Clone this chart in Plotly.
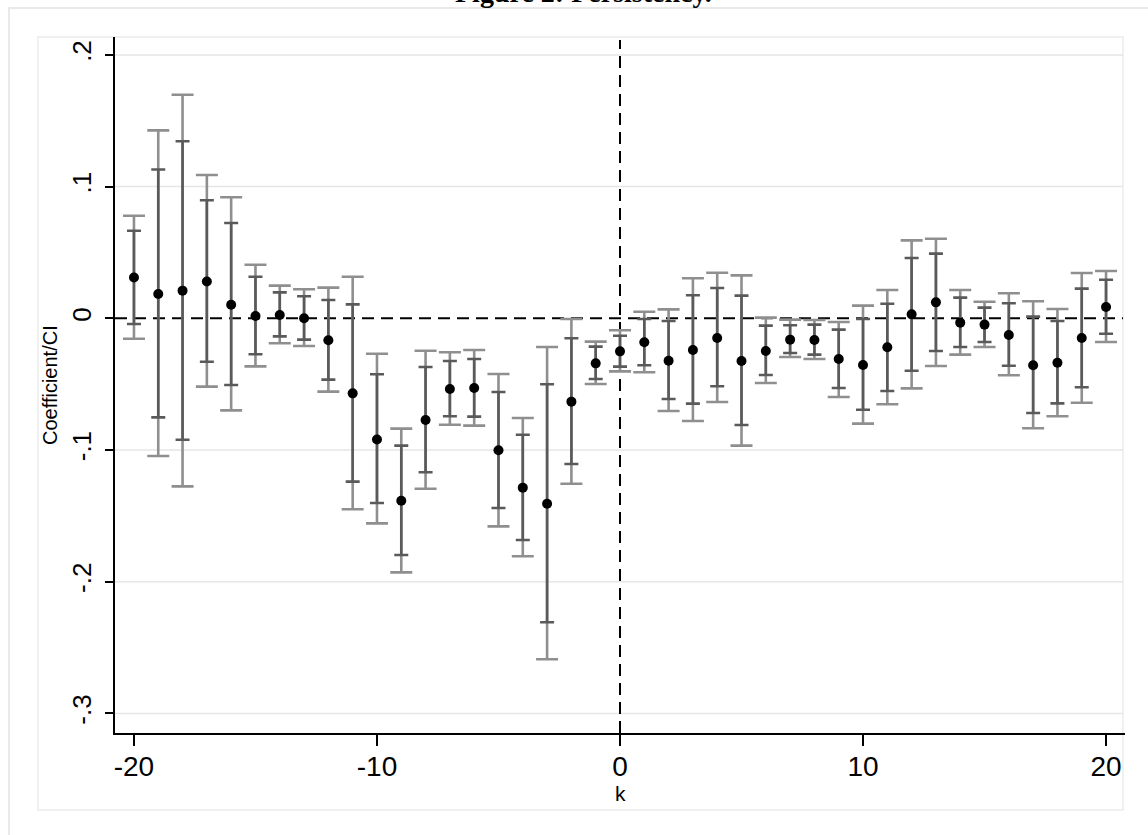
import plotly.graph_objects as go
import numpy as np

# ---- data ----
k = list(range(-20, 21))
coef = [0.031, 0.0185, 0.021, 0.028, 0.0103, 0.0017, 0.0025, 0.0, -0.0167, -0.057,
        -0.092, -0.1385, -0.0772, -0.0537, -0.0529, -0.1002, -0.1286, -0.1408, -0.0633, -0.0342,
        -0.0251, -0.0182, -0.0322, -0.0241, -0.015, -0.0324, -0.0248, -0.0162, -0.0165, -0.0309,
        -0.0355, -0.022, 0.003, 0.0121, -0.0033, -0.0048, -0.0127, -0.0357, -0.0337, -0.015, 0.0086]
inner_hi = [0.0665, 0.113, 0.1344, 0.0896, 0.0724, 0.0316, 0.0197, 0.0167, 0.0139, 0.0106,
            -0.0425, -0.0967, -0.037, -0.0324, -0.0309, -0.056, -0.0884, -0.0501, -0.0152, -0.0215,
            -0.0132, -0.0005, -0.002, 0.0175, 0.023, 0.0172, -0.0056, -0.0053, -0.0048, -0.0086,
            -0.0005, 0.0111, 0.0458, 0.0491, 0.0157, 0.0081, 0.0114, 0.0013, -0.002, 0.0225, 0.0293]
inner_lo = [-0.0043, -0.0752, -0.0922, -0.033, -0.0506, -0.0273, -0.0137, -0.0162, -0.0466, -0.124,
            -0.1402, -0.1797, -0.1169, -0.0744, -0.0747, -0.144, -0.1683, -0.2308, -0.1106, -0.0461,
            -0.0367, -0.0357, -0.0613, -0.0648, -0.0516, -0.081, -0.043, -0.0263, -0.0276, -0.0529,
            -0.0694, -0.0552, -0.0398, -0.0248, -0.0218, -0.018, -0.036, -0.0719, -0.0646, -0.0524, -0.0117]
outer_hi = [0.0779, 0.1427, 0.1698, 0.1088, 0.0919, 0.0407, 0.0248, 0.022, 0.0233, 0.0316,
            -0.0269, -0.0838, -0.0246, -0.0258, -0.0241, -0.0423, -0.0757, -0.0218, -0.0005, -0.0177,
            -0.0091, 0.005, 0.0068, 0.0304, 0.0346, 0.0326, 0.0005, -0.001, -0.0013, -0.0028,
            0.0096, 0.0215, 0.0592, 0.0604, 0.0215, 0.0126, 0.019, 0.0129, 0.0071, 0.0344, 0.0359]
outer_lo = [-0.0155, -0.1046, -0.1276, -0.0519, -0.0699, -0.0365, -0.019, -0.021, -0.0557, -0.145,
            -0.1557, -0.1929, -0.1294, -0.0808, -0.0815, -0.158, -0.1807, -0.2589, -0.1256, -0.0499,
            -0.0403, -0.041, -0.0704, -0.078, -0.0636, -0.0967, -0.0491, -0.0294, -0.0309, -0.0598,
            -0.08, -0.0653, -0.0532, -0.0362, -0.0276, -0.0218, -0.0433, -0.0835, -0.0744, -0.0641, -0.018]
x_ticks = [-20, -10, 0, 10, 20]
x_ticktext = ["-20", "-10", "0", "10", "20"]
y_ticks = [0.2, 0.1, 0.0, -0.1, -0.2, -0.3]
y_ticktext = [".2", ".1", "0", "-.1", "-.2", "-.3"]

c = np.array(coef)
ih, il = np.array(inner_hi), np.array(inner_lo)
oh, ol = np.array(outer_hi), np.array(outer_lo)

W, H = 1148, 835
L, R, T, B = 115, 1125, 37, 733   # plot area pixel box


def px(xp):
    return (xp - L) / (R - L)


def py(yp):
    return (B - yp) / (B - T)


fig = go.Figure()

fig.add_trace(go.Scatter(
    x=k, y=coef, mode="markers", marker=dict(size=1, opacity=0),
    error_y=dict(type="data", symmetric=False, array=oh - c, arrayminus=c - ol,
                 color="#8f8f8f", thickness=2.6, width=11),
    hoverinfo="skip", showlegend=False))
fig.add_trace(go.Scatter(
    x=k, y=coef, mode="markers", marker=dict(size=1, opacity=0),
    error_y=dict(type="data", symmetric=False, array=ih - c, arrayminus=c - il,
                 color="#5a5a5a", thickness=2.6, width=7),
    hoverinfo="skip", showlegend=False))
fig.add_trace(go.Scatter(
    x=k, y=coef, mode="markers", marker=dict(size=10, color="black"),
    showlegend=False))

shapes = [
    # outer graph region frame
    dict(type="rect", xref="paper", yref="paper", x0=px(9), x1=px(1170), y0=py(8), y1=py(860),
         line=dict(color="#e9e9e9", width=2), fillcolor="rgba(0,0,0,0)", layer="below"),
    # inner frame
    dict(type="rect", xref="paper", yref="paper", x0=px(38), x1=px(1123), y0=py(37), y1=py(810),
         line=dict(color="#ececec", width=1.5), fillcolor="rgba(0,0,0,0)", layer="below"),
]
# gridlines (all ticks except zero, which carries the dashed reference line)
for yv in y_ticks:
    if yv != 0:
        shapes.append(dict(type="line", xref="paper", yref="y", x0=0, x1=px(1123), y0=yv, y1=yv,
                           line=dict(color="#e6e6e6", width=1.5), layer="below"))
# reference lines
shapes += [
    dict(type="line", xref="paper", yref="y", x0=0, x1=px(1123), y0=0, y1=0,
         line=dict(color="black", width=2, dash="12px,7px"), layer="below"),
    dict(type="line", xref="x", yref="paper", x0=0, x1=0, y0=0, y1=py(40),
         line=dict(color="black", width=2, dash="12px,7px"), layer="below"),
]

annotations = [
    dict(text="<b>Figure 2: Persistency.</b>", xref="paper", yref="paper",
         x=px(583), y=py(10), xanchor="center", yanchor="bottom", showarrow=False,
         font=dict(family="Liberation Serif, Times New Roman, serif", size=28, color="black")),
    dict(text="Coefficient/CI", xref="paper", yref="paper", x=px(50), y=py(385),
         xanchor="center", yanchor="middle", textangle=-90, showarrow=False,
         font=dict(family="Arial, Liberation Sans, sans-serif", size=20, color="black")),
    dict(text="k", xref="paper", yref="paper", x=px(620), y=py(793),
         xanchor="center", yanchor="middle", showarrow=False,
         font=dict(family="Arial, Liberation Sans, sans-serif", size=21, color="black")),
]

fig.update_layout(
    width=W, height=H,
    margin=dict(l=L, r=W - R, t=T, b=H - B, autoexpand=False),
    paper_bgcolor="white", plot_bgcolor="white",
    shapes=shapes, annotations=annotations,
    font=dict(family="Arial, Liberation Sans, sans-serif", color="black"),
    xaxis=dict(range=[-20.78, 20.78], tickvals=x_ticks, ticktext=x_ticktext, ticks="outside",
               ticklen=11, tickwidth=1.5, tickcolor="black", showline=True, linecolor="black",
               linewidth=1.5, showgrid=False, zeroline=False, automargin=False,
               ticklabelstandoff=-3, tickfont=dict(size=28)),
    yaxis=dict(range=[-0.3149, 0.2136], tickvals=y_ticks, ticktext=y_ticktext, tickangle=-90,
               ticks="outside", ticklen=8, tickwidth=1.5, tickcolor="black", showline=True,
               linecolor="black", linewidth=1.5, showgrid=False, zeroline=False,
               automargin=False, ticklabelstandoff=4, tickfont=dict(size=26)),
)

# remove the browser's default body margin so the figure sits at the page origin
fig.write_html("out.html", config={"displayModeBar": False},
               post_script="document.body.style.margin='0px';")
